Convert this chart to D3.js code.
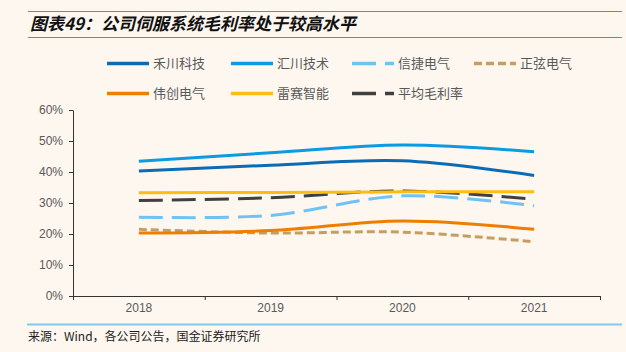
<!DOCTYPE html>
<html><head><meta charset="utf-8">
<script src="https://cdn.jsdelivr.net/npm/d3@7"></script>
<style>
html,body{margin:0;padding:0;background:#fef7f0;}
svg{display:block;}
</style></head>
<body>
<svg id="c" width="626" height="352"></svg>
<script>
const years = ["2018","2019","2020","2021"];
const seriesNames = ["禾川科技","汇川技术","信捷电气","正弦电气","伟创电气","雷赛智能","平均毛利率"];
const heChuan   = [40.3, 42.2, 43.6, 38.9];
const huiChuan  = [43.5, 46.2, 48.7, 46.5];
const xinJie    = [25.4, 26.0, 32.3, 29.1];
const zhengXian = [21.5, 20.3, 20.6, 17.5];
const weiChuang = [20.3, 21.1, 24.2, 21.5];
const leiSai    = [33.3, 33.4, 33.6, 33.6];
const average   = [30.8, 31.7, 33.9, 31.2];
const yTicks = [0,10,20,30,40,50,60];
const title = "图表49：公司伺服系统毛利率处于较高水平";
const source = "来源：Wind，各公司公告，国金证券研究所";

const values = [heChuan, huiChuan, xinJie, zhengXian, weiChuang, leiSai, average];
const colors = ["#0b6bb4","#0a9be3","#6ec2f4","#c49f5f","#ef7d00","#fbbd12","#404040"];
const dashes = [null, null, "24,9", "8,4", null, null, "24,9"];

const svg = d3.select("#c");
const FONT = "'Liberation Sans', Arial, 'Noto Sans CJK SC', sans-serif";

// header / footer rules
svg.append("line").attr("x1",28).attr("x2",622).attr("y1",11.5).attr("y2",11.5).attr("stroke","#3a9ad8").attr("stroke-width",1);
svg.append("line").attr("x1",28).attr("x2",622).attr("y1",37.5).attr("y2",37.5).attr("stroke","#3a9ad8").attr("stroke-width",1);
svg.append("text").attr("x",30).attr("y",30).text(title)
  .attr("font-family","'Noto Sans CJK SC', sans-serif").attr("font-size",17).attr("font-weight","bold")
  .attr("font-style","italic").attr("fill","#111");
svg.append("line").attr("x1",27).attr("x2",622).attr("y1",324.5).attr("y2",324.5).attr("stroke","#80caec").attr("stroke-width",2);
svg.append("text").attr("x",28).attr("y",341).text(source)
  .attr("font-family","'Noto Sans CJK SC', sans-serif").attr("font-size",12).attr("fill","#222");

// scales
const x = d3.scaleBand().domain(years).range([73,600]).paddingInner(0).paddingOuter(0);
const y = d3.scaleLinear().domain([0,60]).range([296,110]);

// y axis
const yAxis = svg.append("g").attr("transform","translate(73,0)")
  .call(d3.axisLeft(y).tickValues(yTicks).tickSize(4).tickSizeOuter(0).tickFormat(d=>d+"%"));
yAxis.selectAll("path,line").attr("stroke","#333");
yAxis.selectAll("text").attr("font-family",FONT).attr("font-size",12).attr("fill","#595959").attr("dx","-3");

// x axis
const xAxis = svg.append("g").attr("transform","translate(0,296)")
  .call(d3.axisBottom(x).tickSize(0).tickSizeOuter(0));
xAxis.select("path").attr("stroke","#333");
xAxis.selectAll("text").attr("font-family",FONT).attr("font-size",12).attr("fill","#595959").attr("dy","1.1em");
const bounds = years.map(d=>x(d)).concat([x(years[years.length-1])+x.bandwidth()]);
xAxis.selectAll(".bt").data(bounds).enter().append("line").attr("class","bt")
  .attr("x1",d=>d+0.5).attr("x2",d=>d+0.5).attr("y1",0).attr("y2",4).attr("stroke","#333");

// lines
const line = d3.line().x((d,i)=>x(years[i])+x.bandwidth()/2).y(d=>y(d)).curve(d3.curveCatmullRom.alpha(0.5));
const drawOrder = [3,4,2,6,5,0,1];
drawOrder.forEach(k=>{
  svg.append("path").datum(values[k]).attr("d",line).attr("fill","none")
    .attr("stroke",colors[k]).attr("stroke-width",3)
    .attr("stroke-dasharray",dashes[k]).attr("stroke-linecap","butt");
});

// legend
const legX = [107,231,352,474];
const legY = [63.5,93.5];
seriesNames.forEach((n,i)=>{
  const col = i<4 ? i : i-4, row = i<4 ? 0 : 1;
  const gx = legX[col], gy = legY[row];
  const g = svg.append("g");
  g.append("line").attr("x1",gx).attr("x2",gx+42).attr("y1",gy).attr("y2",gy)
    .attr("stroke",colors[i]).attr("stroke-width",3.5).attr("stroke-dasharray",dashes[i]);
  g.append("text").attr("x",gx+46).attr("y",gy+4.5).text(n)
    .attr("font-family","'Noto Sans CJK SC', sans-serif").attr("font-size",13).attr("fill","#595959");
});
</script>
</body></html>
